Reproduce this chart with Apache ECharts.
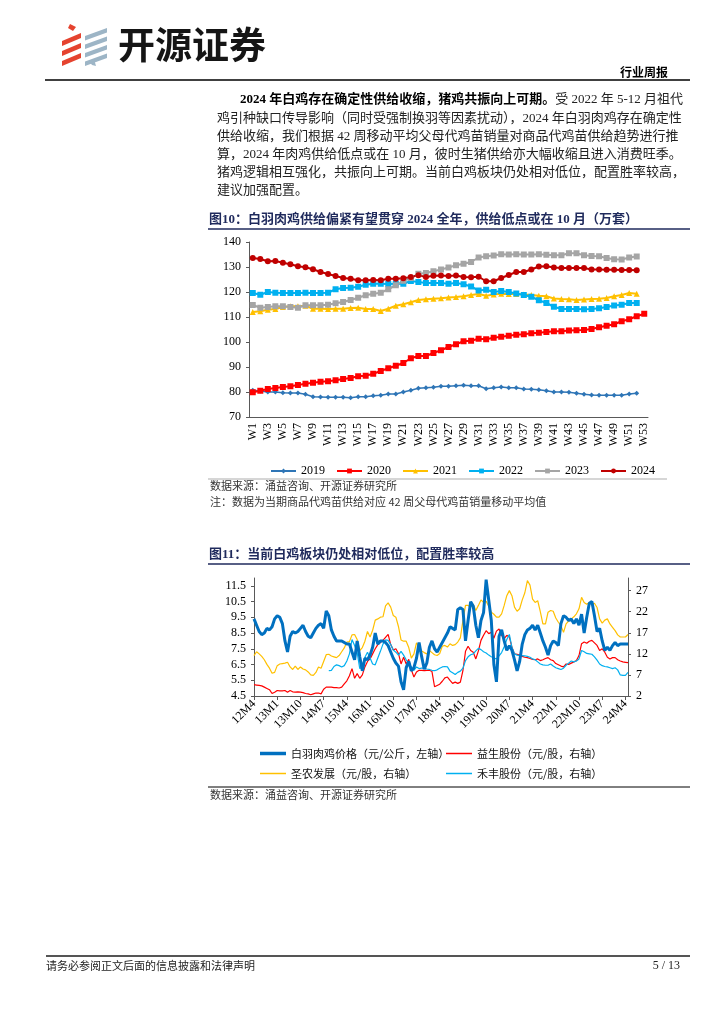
<!DOCTYPE html>
<html><head><meta charset="utf-8">
<script src="https://cdn.jsdelivr.net/npm/echarts@6/dist/echarts.min.js"></script>
<style>html,body{margin:0;padding:0;background:#fff}#c{width:724px;height:1024px}</style>
</head><body><div id="c"></div><script>
// ---------- Chart 1 data (万套) ----------
const weeks = [];
for (let i = 1; i <= 53; i++) weeks.push('W' + i);
const s2019 = [80.7,80.4,80.0,80.0,79.7,79.6,79.6,79.1,78.1,78.0,77.9,77.9,77.9,77.7,78.1,78.1,78.5,78.7,79.2,79.2,80.0,80.7,81.5,81.7,81.9,82.3,82.3,82.5,82.7,82.5,82.5,81.3,81.7,82.0,81.7,81.7,81.2,81.1,80.9,80.5,80.0,80.0,79.9,79.5,79.1,78.8,78.7,78.7,78.7,78.7,79.2,79.5];
const s2020 = [79.9,80.5,81.2,81.6,82.0,82.3,82.8,83.3,83.7,84.1,84.3,84.7,85.2,85.6,86.3,86.5,87.3,88.4,89.5,90.5,91.6,93.5,94.4,94.4,95.6,96.7,98.0,99.1,100.3,100.5,101.3,101.1,101.7,102.1,102.5,102.9,103.1,103.5,103.7,104.0,104.3,104.3,104.6,104.7,104.8,105.2,105.9,106.5,107.1,108.3,109.1,110.3,111.3];
const s2021 = [112.0,112.3,112.9,113.2,114.0,114.3,114.3,114.5,113.3,113.3,113.2,113.3,113.3,113.6,113.7,113.2,113.2,112.4,113.3,114.5,115.1,115.9,116.8,117.1,117.3,117.5,117.8,118.0,118.3,118.8,119.2,118.5,119.0,119.3,119.2,119.2,119.0,118.8,118.5,118.3,117.4,117.2,117.1,116.8,117.0,117.2,117.3,117.6,118.3,118.8,119.6,119.3];
const s2022 = [119.6,118.9,120.0,119.7,119.6,119.6,119.6,119.7,119.6,119.6,119.7,121.1,121.6,121.7,122.1,122.9,123.3,123.3,123.2,123.3,123.3,124.4,124.0,123.6,123.6,123.6,123.3,123.6,123.1,122.2,120.6,120.9,120.0,120.4,120.0,119.4,118.8,118.1,116.7,115.6,114.1,113.2,113.2,113.2,113.1,113.2,113.5,114.0,114.6,114.9,115.6,115.6];
const s2023 = [114.8,113.7,114.0,114.3,114.3,114.0,113.7,114.7,114.7,114.7,114.9,115.5,116.0,116.8,117.7,118.7,119.3,119.7,121.1,122.7,124.5,125.6,127.3,127.6,128.3,129.0,129.8,130.7,131.3,132.0,133.8,134.3,134.6,135.1,135.0,135.1,135.0,135.0,135.1,134.9,134.7,134.7,135.5,135.5,134.7,134.4,134.3,133.6,133.1,133.0,133.8,134.2];
const s2024 = [133.6,133.2,132.3,132.4,131.7,131.1,130.3,129.9,129.1,128.0,127.2,126.4,125.6,125.3,124.7,124.7,124.8,124.7,125.3,125.3,125.5,126.0,126.7,126.0,126.5,126.6,126.4,126.6,126.0,125.9,126.1,124.3,124.3,125.6,126.8,128.0,128.0,129.0,130.2,130.3,129.8,129.6,129.6,129.6,129.6,129.0,129.0,128.9,128.9,128.8,128.8,128.7];

// ---------- Chart 2 data (monthly, 2012M4 - 2024M5) ----------
const months = [];
for (let i = 0; i < 146; i++) { const t = 3 + i; months.push(String(12 + Math.floor(t / 12)) + 'M' + (t % 12 + 1)); }
const broilerPrice = [9.4,9.0,8.6,8.4,8.5,8.8,8.7,8.9,9.4,9.6,9.5,9.1,8.0,7.3,8.3,8.6,8.5,8.6,8.8,9.0,8.6,8.3,8.2,8.5,8.8,9.0,9.1,8.8,9.9,9.6,8.7,8.3,8.0,8.0,8.0,7.9,7.8,7.8,7.3,6.8,8.0,7.0,6.1,6.9,6.8,7.1,7.6,8.5,7.8,8.0,8.0,7.9,7.7,7.3,6.9,6.6,6.4,5.4,4.9,6.3,6.7,6.1,6.3,6.9,7.9,7.0,6.2,6.6,7.6,8.0,7.5,7.3,7.6,7.9,8.2,8.5,8.9,8.8,8.7,10.0,10.1,10.0,8.0,9.3,10.5,10.2,9.0,8.2,9.3,9.8,11.9,10.6,9.3,6.5,5.4,8.3,8.7,8.0,7.4,7.7,7.4,6.8,6.1,6.7,7.8,8.4,8.7,8.8,9.0,8.7,9.0,8.5,8.0,7.6,7.1,7.7,8.0,7.9,7.7,9.1,9.6,9.5,9.3,9.4,9.1,9.4,9.0,9.7,8.5,9.5,10.4,10.5,9.6,8.6,8.8,8.0,7.4,7.6,7.4,7.7,7.9,7.7,7.8,7.8,7.8,7.8];
const yisheng = [4.7,4.6,4.5,4.4,4.1,3.8,3.5,2.6,2.9,3.3,3.2,3.2,3.3,2.9,3.3,3.0,2.9,3.0,2.9,2.8,2.6,2.5,2.3,2.5,2.7,2.7,2.5,3.6,4.1,4.1,4.1,4.0,4.0,3.9,4.1,4.9,5.6,6.8,8.5,6.2,7.3,6.2,7.0,8.9,10.2,10.8,12.0,13.2,14.2,14.7,15.2,15.9,16.6,14.2,12.9,13.2,12.1,9.6,11.2,9.6,10.7,8.2,6.5,7.7,8.1,8.1,8.0,8.1,8.1,7.8,4.2,4.5,4.8,5.5,6.3,6.5,5.7,5.0,5.3,5.0,5.3,8.0,12.6,13.8,12.8,12.4,10.8,12.7,15.2,16.4,17.5,16.8,17.1,15.7,17.4,17.9,16.4,15.6,16.4,16.0,13.6,12.0,11.9,11.7,11.4,11.2,11.1,10.9,10.7,10.6,10.8,10.4,10.6,10.9,11.1,10.6,10.4,9.7,9.4,9.1,8.9,9.6,9.5,9.8,10.1,10.4,11.6,14.4,14.8,14.5,15.0,15.2,14.6,14.0,12.8,13.2,12.4,11.2,10.8,11.1,11.1,10.6,10.3,10.1,10.0,9.9];
const shengnong = [11.6,12.5,12.0,11.4,10.6,9.5,8.6,7.4,7.6,9.2,9.6,9.7,9.8,10.0,8.9,8.3,9.1,8.3,8.9,8.4,8.2,7.7,7.0,6.9,7.6,8.9,8.6,10.2,11.8,11.9,11.5,11.3,11.1,11.6,12.5,13.4,14.8,14.9,16.5,16.6,15.4,12.8,13.5,15.0,17.3,16.0,17.6,20.0,20.3,20.7,20.8,23.4,24.1,23.1,21.1,20.7,18.5,15.3,15.0,15.0,13.5,11.0,12.0,14.6,13.8,12.7,12.3,12.0,12.8,12.3,11.8,11.6,12.1,13.8,14.0,13.6,14.4,14.0,14.2,14.8,15.8,19.9,23.5,23.5,23.1,23.8,22.3,23.5,24.8,24.2,24.5,23.3,21.9,21.4,20.7,20.7,21.5,23.5,25.8,27.0,25.8,23.1,22.1,22.7,24.8,26.5,29.4,28.3,25.0,24.2,24.6,22.0,19.1,19.1,21.9,22.3,22.1,20.5,19.5,18.7,17.1,19.1,19.8,20.3,20.8,21.5,22.7,25.4,24.2,23.8,24.2,23.8,24.0,23.0,20.3,19.3,20.0,20.3,19.1,18.3,17.5,16.5,16.0,16.0,16.0,16.6];
const hefeng = Array(29).fill(null).concat([8.0,8.1,9.0,9.4,9.2,8.9,9.2,10.3,12.0,15.4,14.0,12.3,8.5,8.9,11.2,12.4,11.0,9.6,9.4,11.0,12.6,14.3,15.3,15.2,14.2,12.9,12.4,11.7,12.6,11.7,10.6,9.6,8.9,8.1,8.9,8.5,8.6,8.6,8.4,8.3,8.1,8.0,8.2,8.6,8.9,9.0,8.9,7.9,7.5,7.1,7.6,7.9,8.6,10.4,11.3,11.8,12.0,12.7,13.3,13.0,12.5,12.2,11.7,11.3,11.0,10.8,11.5,12.3,13.7,15.4,16.6,13.5,12.0,11.7,11.6,11.6,11.5,11.4,11.2,10.8,10.6,10.1,9.6,9.4,9.3,9.3,9.6,9.1,8.7,8.5,8.3,8.6,9.3,9.8,10.3,10.1,10.3,10.8,12.8,12.5,12.1,12.0,11.9,11.3,10.5,9.6,9.2,9.0,8.9,8.7,8.5,8.7,8.2,7.0,6.9,6.9,7.6]);
const leftTicks = [4.5,5.5,6.5,7.5,8.5,9.5,10.5,11.5];
const rightTicks = [2,7,12,17,22,27];

// ---------- fonts / helpers ----------
const SER = "'Liberation Serif','Noto Sans CJK SC',serif";
const CJK = "'Noto Sans CJK SC','Liberation Serif',sans-serif";
function T(x, y, text, font, extra) {
  return { type: 'text', x: x, y: y, silent: true,
    style: Object.assign({ text: text, font: font, fill: '#111', align: 'left', verticalAlign: 'middle' }, extra || {}) };
}
function L(x1, y1, x2, y2, color, w) {
  return { type: 'line', silent: true, shape: { x1: x1, y1: y1, x2: x2, y2: y2 }, style: { stroke: color, lineWidth: w } };
}
function P(pts, color) { return { type: 'polygon', silent: true, shape: { points: pts }, style: { fill: color } }; }

const graphics = [];
// logo
const RED = '#E5432F', GB = '#9DB5C6';
graphics.push(P([[70,24],[76,27],[73,31],[68,28]], RED));
for (let i = 0; i < 3; i++) { const y0 = 34 + i * 10; graphics.push(P([[62, y0 + 7],[81, y0 - 1],[81, y0 + 4],[62, y0 + 12]], RED)); }
for (let i = 0; i < 4; i++) { const y0 = 30 + i * 8.5; graphics.push(P([[85, y0 + 6],[107, y0 - 2],[107, y0 + 2.5],[85, y0 + 10.5]], GB)); }
graphics.push(P([[89, 61],[94, 59],[96, 66],[92, 65]], GB));
graphics.push(T(118, 45, '开源证券', 'bold 37px ' + CJK, { fill: '#151515' }));
graphics.push(T(668, 72, '行业周报', 'bold 12px ' + CJK, { align: 'right', fill: '#000' }));
graphics.push(L(45, 80, 690, 80, '#000', 1.5));

// paragraph
graphics.push({ type: 'text', x: 240, y: 100, silent: true, style: {
  text: '{b|2024 年白鸡存在确定性供给收缩，猪鸡共振向上可期。}{n|受 2022 年 5-12 月祖代}',
  verticalAlign: 'middle', align: 'left',
  rich: { b: { fontSize: 13, fontWeight: 'bold', fontFamily: SER, fill: '#000' }, n: { fontSize: 13, fontFamily: SER, fill: '#222' } } } });
const para = [
  '鸡引种缺口传导影响（同时受强制换羽等因素扰动），2024 年白羽肉鸡存在确定性',
  '供给收缩，我们根据 42 周移动平均父母代鸡苗销量对商品代鸡苗供给趋势进行推',
  '算，2024 年肉鸡供给低点或在 10 月，彼时生猪供给亦大幅收缩且进入消费旺季。',
  '猪鸡逻辑相互强化，共振向上可期。当前白鸡板块仍处相对低位，配置胜率较高，',
  '建议加强配置。'
];
const paraY = [118.3, 136.7, 155, 173, 191];
para.forEach((s, i) => graphics.push(T(217, paraY[i], s, '13px ' + SER, { fill: '#222' })));

// figure 10 title
const NAVY = '#1F2A5C';
graphics.push(T(209, 220, '图10：白羽肉鸡供给偏紧有望贯穿 2024 全年，供给低点或在 10 月（万套）', 'bold 13px ' + SER, { fill: NAVY }));
graphics.push(L(208, 229, 690, 229, NAVY, 1.5));
graphics.push(L(208, 479, 667, 479, '#C8C8C8', 1.5));
graphics.push(T(210, 486, '数据来源：涌益咨询、开源证券研究所', '11px ' + CJK, { fill: '#333' }));
graphics.push(T(210, 502, '注：数据为当期商品代鸡苗供给对应 42 周父母代鸡苗销量移动平均值', '11px ' + CJK, { fill: '#333' }));

// figure 11 title
graphics.push(T(209, 555, '图11：当前白鸡板块仍处相对低位，配置胜率较高', 'bold 13px ' + SER, { fill: NAVY }));
graphics.push(L(208, 564, 690, 564, NAVY, 1.5));
graphics.push(L(208, 787, 690, 787, '#000', 1));
graphics.push(T(210, 795, '数据来源：涌益咨询、开源证券研究所', '11px ' + CJK, { fill: '#333' }));

// footer
graphics.push(L(46, 956, 690, 956, '#555', 2));
graphics.push(T(46, 966, '请务必参阅正文后面的信息披露和法律声明', '11px ' + CJK, { fill: '#222' }));
graphics.push(T(680, 966, '5 / 13', '12px ' + SER, { align: 'right', fill: '#222' }));

const axisCol = '#595959';
const lab = { fontFamily: SER, fontSize: 12, color: '#000' };

function wk(name, data, color, symbol, size, lw) {
  return { name: name, type: 'line', xAxisIndex: 0, yAxisIndex: 0, data: data, symbol: symbol, symbolSize: size,
    showAllSymbol: true, lineStyle: { color: color, width: lw }, itemStyle: { color: color }, z: 3 };
}
function mo(name, data, color, yIdx, lw, z) {
  return { name: name, type: 'line', xAxisIndex: 1, yAxisIndex: yIdx, data: data, symbol: 'none', showSymbol: false,
    lineStyle: { color: color, width: lw }, itemStyle: { color: color }, z: z };
}
const legText11 = { fontFamily: CJK, fontSize: 11, color: '#111' };

const option = {
  animation: false,
  backgroundColor: '#fff',
  graphic: graphics,
  grid: [
    { left: 249, top: 242, width: 399, height: 175 },
    { left: 254, top: 578, width: 374, height: 118 }
  ],
  xAxis: [
    { gridIndex: 0, type: 'category', data: weeks, boundaryGap: true,
      axisLine: { lineStyle: { color: axisCol } },
      axisTick: { inside: true, interval: 0, length: 3, lineStyle: { color: axisCol } },
      axisLabel: Object.assign({ interval: 1, rotate: 90, margin: 6 }, lab) },
    { gridIndex: 1, type: 'category', data: months, boundaryGap: false,
      axisLine: { lineStyle: { color: axisCol } },
      axisTick: { interval: 8, length: 4, lineStyle: { color: axisCol } },
      axisLabel: Object.assign({ interval: 8, rotate: 45, margin: 6 }, lab) }
  ],
  yAxis: [
    { gridIndex: 0, type: 'value', min: 70, max: 140, interval: 10,
      axisLine: { show: true, lineStyle: { color: axisCol } },
      axisTick: { show: true, length: 3, lineStyle: { color: axisCol } },
      splitLine: { show: false }, axisLabel: Object.assign({ margin: 8 }, lab) },
    { gridIndex: 1, type: 'value', min: 4.5, max: 12,
      axisLine: { show: true, lineStyle: { color: axisCol } },
      axisTick: { show: true, length: 3, customValues: leftTicks, lineStyle: { color: axisCol } },
      splitLine: { show: false },
      axisLabel: Object.assign({ margin: 8, customValues: leftTicks, formatter: v => Number(v).toFixed(1) }, lab) },
    { gridIndex: 1, type: 'value', position: 'right', min: 2, max: 30,
      axisLine: { show: true, lineStyle: { color: axisCol } },
      axisTick: { show: true, length: 3, customValues: rightTicks, lineStyle: { color: axisCol } },
      splitLine: { show: false },
      axisLabel: Object.assign({ margin: 8, customValues: rightTicks }, lab) }
  ],
  legend: [
    { data: ['2019','2020','2021','2022','2023','2024'], left: 265, top: 460, itemWidth: 25, itemHeight: 6, itemGap: 11,
      textStyle: { fontFamily: SER, fontSize: 12, color: '#000' } },
    { data: ['白羽肉鸡价格（元/公斤，左轴）'], left: 255, top: 743, icon: 'rect', itemWidth: 26, itemHeight: 3.5, textStyle: legText11 },
    { data: ['益生股份（元/股，右轴）'], left: 441, top: 743, icon: 'rect', itemWidth: 26, itemHeight: 1.5, textStyle: legText11 },
    { data: ['圣农发展（元/股，右轴）'], left: 255, top: 763, icon: 'rect', itemWidth: 26, itemHeight: 1.5, textStyle: legText11 },
    { data: ['禾丰股份（元/股，右轴）'], left: 441, top: 763, icon: 'rect', itemWidth: 26, itemHeight: 1.5, textStyle: legText11 }
  ],
  series: [
    wk('2019', s2019, '#2E75B6', 'diamond', 5, 1.5),
    wk('2020', s2020, '#FF0000', 'rect', 6, 2),
    wk('2021', s2021, '#FFC000', 'triangle', 6, 2),
    wk('2022', s2022, '#00B0F0', 'rect', 6, 2),
    wk('2023', s2023, '#A5A5A5', 'rect', 6, 2),
    wk('2024', s2024, '#C00000', 'circle', 6, 2),
    mo('白羽肉鸡价格（元/公斤，左轴）', broilerPrice, '#0070C0', 1, 3, 6),
    mo('益生股份（元/股，右轴）', yisheng, '#FF0000', 2, 1.2, 4),
    mo('圣农发展（元/股，右轴）', shengnong, '#FFC000', 2, 1.2, 3),
    mo('禾丰股份（元/股，右轴）', hefeng, '#00B0F0', 2, 1.2, 5)
  ]
};
const chart = echarts.init(document.getElementById('c'));
chart.setOption(option);
</script></body></html>
